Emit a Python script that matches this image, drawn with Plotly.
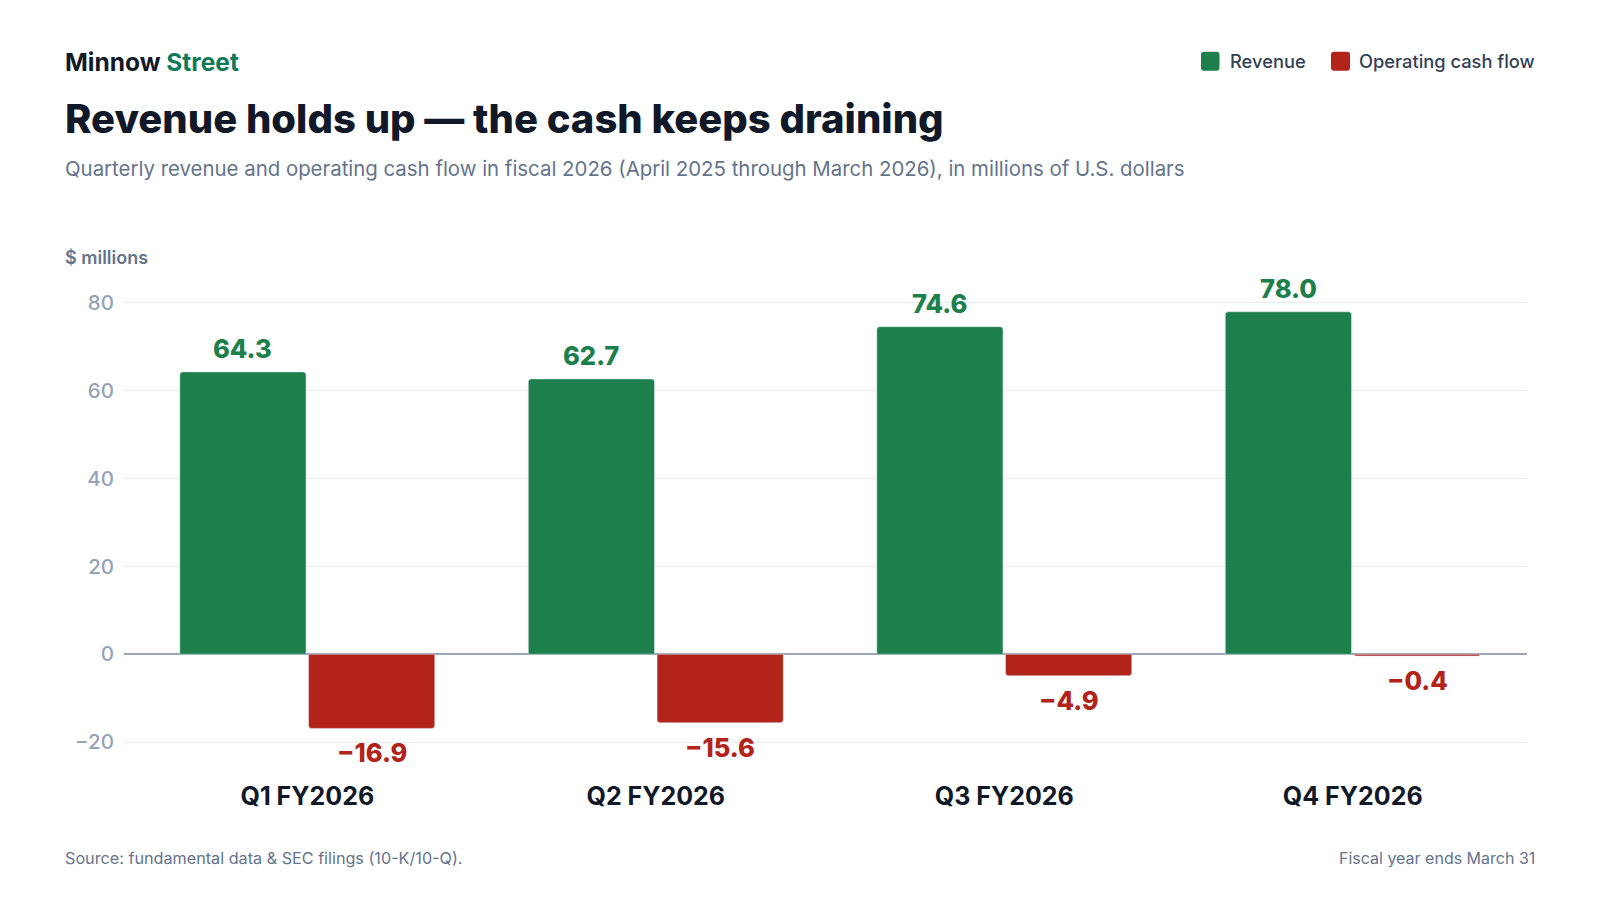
import plotly.graph_objects as go

# data
quarters = ['Q1 FY2026', 'Q2 FY2026', 'Q3 FY2026', 'Q4 FY2026']
revenue = [64.3, 62.7, 74.6, 78.0]
op_cash_flow = [-16.9, -15.6, -4.9, -0.4]

GREEN = '#1d804c'
RED = '#b22319'
INK = '#111827'
SLATE = '#64748b'
FONT = 'Inter'

# page geometry (pixels); the page body adds an 8px offset
W, H = 1600, 900
OFF = 8
L, R, T, B = 116, 81, 273, 144
PW, PH = W - L - R, H - T - B


def px(x):
    return (x - OFF - L) / PW


def py(y):
    return (H - B - (y - OFF)) / PH


def fmt(v):
    s = f'{abs(v):.1f}'
    return ('\u2212' + s) if v < 0 else s


def swatch(x0, y0, x1, y1, r=3):
    # rounded square for the legend, in paper coords
    pts = [
        f'M{px(x0 + r)},{py(y0)}', f'L{px(x1 - r)},{py(y0)}',
        f'Q{px(x1)},{py(y0)} {px(x1)},{py(y0 + r)}', f'L{px(x1)},{py(y1 - r)}',
        f'Q{px(x1)},{py(y1)} {px(x1 - r)},{py(y1)}', f'L{px(x0 + r)},{py(y1)}',
        f'Q{px(x0)},{py(y1)} {px(x0)},{py(y1 - r)}', f'L{px(x0)},{py(y0 + r)}',
        f'Q{px(x0)},{py(y0)} {px(x0 + r)},{py(y0)}', 'Z',
    ]
    return ' '.join(pts)


fig = go.Figure()
fig.add_trace(go.Bar(x=quarters, y=revenue, name='Revenue',
                     marker=dict(color=GREEN, cornerradius=3),
                     showlegend=False, hoverinfo='skip'))
fig.add_trace(go.Bar(x=quarters, y=op_cash_flow, name='Operating cash flow',
                     marker=dict(color=RED, cornerradius=3),
                     showlegend=False, hoverinfo='skip'))

ann = []
# value labels
for q, v in zip(quarters, revenue):
    ann.append(dict(x=q, y=v, xref='x', yref='y', text=fmt(v), showarrow=False,
                    xshift=-64.5, yshift=6, yanchor='bottom',
                    font=dict(family=FONT, size=25.5, color=GREEN, weight=800)))
for q, v in zip(quarters, op_cash_flow):
    ann.append(dict(x=q, y=v, xref='x', yref='y', text=fmt(v), showarrow=False,
                    xshift=64.5, yshift=-7, yanchor='top',
                    font=dict(family=FONT, size=25.5, color=RED, weight=800)))

# header / footer text
ann += [
    dict(x=px(62.5), y=py(62.3), xref='paper', yref='paper', xanchor='left', yanchor='middle',
         showarrow=False,
         text="Minnow <span style='color:#0f7a57'>Street</span>",
         font=dict(family=FONT, size=24.5, color=INK, weight=700)),
    dict(x=px(62.5), y=py(118.5), xref='paper', yref='paper', xanchor='left', yanchor='middle',
         showarrow=False, text='Revenue holds up \u2014 the cash keeps draining',
         font=dict(family=FONT, size=40, color=INK, weight=800)),
    dict(x=px(62.5), y=py(168.5), xref='paper', yref='paper', xanchor='left', yanchor='middle',
         showarrow=False,
         text='Quarterly revenue and operating cash flow in fiscal 2026 (April 2025 through March 2026), in millions of U.S. dollars',
         font=dict(family=FONT, size=20.4, color=SLATE)),
    dict(x=px(62.5), y=py(257.4), xref='paper', yref='paper', xanchor='left', yanchor='middle',
         showarrow=False, text='$ millions',
         font=dict(family=FONT, size=18, color=SLATE, weight=600)),
    dict(x=px(62.5), y=py(858), xref='paper', yref='paper', xanchor='left', yanchor='middle',
         showarrow=False, text='Source: fundamental data &amp; SEC filings (10-K/10-Q).',
         font=dict(family=FONT, size=16.2, color=SLATE)),
    dict(x=px(1537), y=py(858), xref='paper', yref='paper', xanchor='right', yanchor='middle',
         showarrow=False, text='Fiscal year ends March 31',
         font=dict(family=FONT, size=16, color=SLATE)),
    # legend labels
    dict(x=px(1228), y=py(61.3), xref='paper', yref='paper', xanchor='left', yanchor='middle',
         showarrow=False, text='Revenue',
         font=dict(family=FONT, size=18.3, color='#334155', weight=500)),
    dict(x=px(1357), y=py(61.3), xref='paper', yref='paper', xanchor='left', yanchor='middle',
         showarrow=False, text='Operating cash flow',
         font=dict(family=FONT, size=18.3, color='#334155', weight=500)),
]

shapes = [
    dict(type='path', xref='paper', yref='paper', path=swatch(1201, 51.7, 1219.5, 70.7),
         fillcolor=GREEN, line=dict(width=0)),
    dict(type='path', xref='paper', yref='paper', path=swatch(1331, 51.7, 1350, 70.7),
         fillcolor=RED, line=dict(width=0)),
]

fig.update_layout(
    width=W, height=H,
    margin=dict(l=L, r=R, t=T, b=B),
    paper_bgcolor='white', plot_bgcolor='white',
    barmode='group', bargap=0.261, bargroupgap=0.02,
    annotations=ann, shapes=shapes,
    font=dict(family=FONT),
    xaxis=dict(range=[-0.526, 3.5], showgrid=False, showline=False, ticks='',
               tickfont=dict(family=FONT, size=25, color=INK, weight=700),
               ticklabelstandoff=15, fixedrange=True),
    yaxis=dict(range=[-25, 85], tickvals=[-20, 0, 20, 40, 60, 80],
               showgrid=True, gridcolor='#e8ebef', gridwidth=1,
               zeroline=True, zerolinecolor='#9aa5b8', zerolinewidth=1.5,
               showline=False, ticks='',
               tickfont=dict(family=FONT, size=20.5, color='#94a3b8', weight=500),
               ticklabelstandoff=9, fixedrange=True),
)

fig.write_html('out.html')
